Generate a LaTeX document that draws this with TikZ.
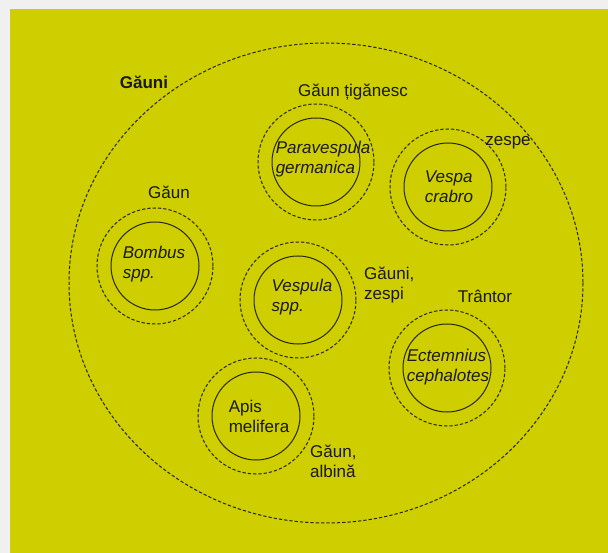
\documentclass[tikz,border=0pt]{standalone}
\usepackage{fontspec}
\setmainfont{Liberation Sans}
\definecolor{wasp}{RGB}{206,206,0}
\definecolor{edge}{RGB}{40,40,20}
\tikzset{
  ring/.style={circle,draw=edge,line width=1pt,minimum size=88pt,inner sep=0pt},
  halo/.style={circle,draw=edge,line width=1pt,dash pattern=on 3.3pt off 2pt,minimum size=116pt,inner sep=0pt},
  sciname/.style={align=left,inner sep=0pt,text=black!90},
  common/.style={inner sep=0pt,text=black!90}
}
\begin{document}
\begin{tikzpicture}[x=1pt,y=-1pt,font=\fontsize{17}{20}\selectfont]
\useasboundingbox (0,0) rectangle (608,553);
\fill[black!6] (0,0) rectangle (608,553);
\fill[wasp] (10,9) rectangle (608,553);

% outer group
\draw[edge,line width=1pt,dash pattern=on 3.3pt off 2pt] (326,283) ellipse [x radius=257, y radius=240];
\node[common,font=\fontsize{17}{20}\selectfont\bfseries] (g0) at (144,82) {Găuni};

% species
\node[halo] (h1) at (316,162) {};
\node[ring] (c1) at (316,162) {};
\node[sciname] (n1) at (323,159) {\itshape Paravespula\\\itshape germanica};

\node[halo] (h2) at (448,187) {};
\node[ring] (c2) at (448,187) {};
\node[sciname] (n2) at (449,187) {\itshape Vespa\\\itshape crabro};

\node[halo] (h3) at (155,266) {};
\node[ring] (c3) at (155,266) {};
\node[sciname] (n3) at (154,264) {\itshape Bombus\\\itshape spp.};

\node[halo] (h4) at (298,300) {};
\node[ring] (c4) at (298,300) {};
\node[sciname] (n4) at (302,297) {\itshape Vespula\\\itshape spp.};

\node[halo] (h5) at (447,368) {};
\node[ring] (c5) at (447,368) {};
\node[sciname] (n5) at (448,367) {\itshape Ectemnius\\\itshape cephalotes};

\node[halo] (h6) at (256,416) {};
\node[ring] (c6) at (256,416) {};
\node[sciname] (n6) at (259,416) {Apis\\melifera};

% common names
\node[common] (l1) at (353,92) {Găun țigănesc};
\node[common] (l2) at (508,143) {zespe};
\node[common] (l3) at (169,192) {Găun};
\node[common,align=left,anchor=west] (l4) at (364,285) {Găuni,\\zespi};
\node[common] (l5) at (485,296) {Trântor};
\node[common,align=left,anchor=west] (l6) at (310,461) {Găun,\\albină};
\end{tikzpicture}
\end{document}
